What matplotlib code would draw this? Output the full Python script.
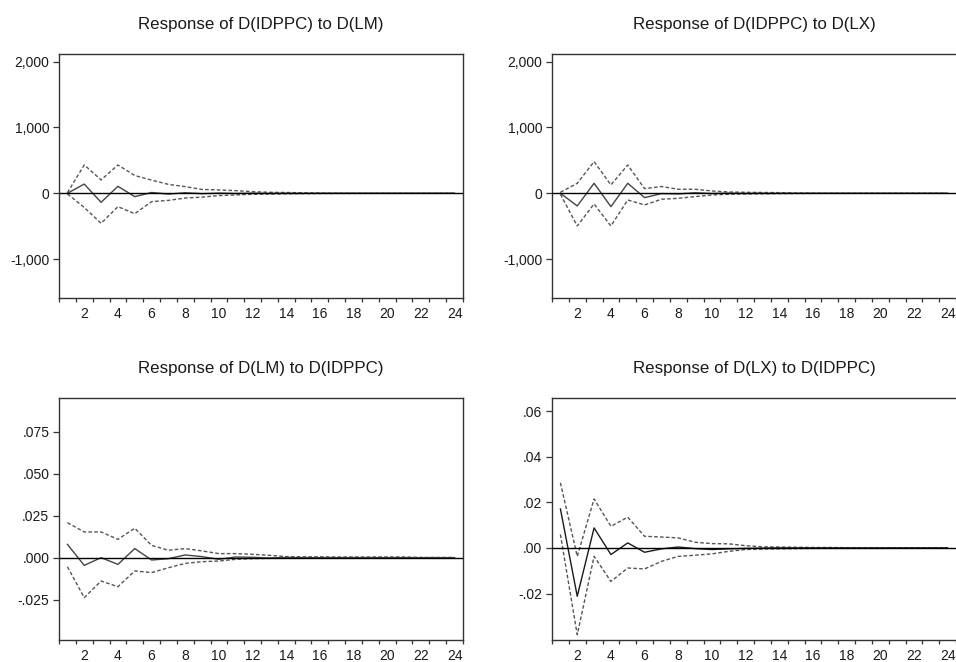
import numpy as np
import matplotlib

matplotlib.use("Agg")
import matplotlib.pyplot as plt

plt.rcParams["font.family"] = ["Liberation Sans", "DejaVu Sans"]

periods = np.arange(1, 25)

titles = [
    "Response of D(IDPPC) to D(LM)",
    "Response of D(IDPPC) to D(LX)",
    "Response of D(LM) to D(IDPPC)",
    "Response of D(LX) to D(IDPPC)",
]

# impulse responses (solid) and +/- 2 S.E. bands (dashed)
resp_lm = [0, 140, -137, 106, -51, 12, -12, 8, -6, 3, -3, 2, -2, 1, -1,
           0, 0, 0, 0, 0, 0, 0, 0, 0]
upper_lm = [10, 430, 203, 430, 270, 200, 135, 101, 58, 51, 40, 25, 15, 12, 8,
            4, 2, 1, 0, 0, 0, 0, 0, 0]
lower_lm = [-10, -215, -456, -203, -310, -127, -108, -72, -58, -35, -25, -15,
            -12, -8, -5, -3, -2, -1, 0, 0, 0, 0, 0, 0]

resp_lx = [0, -192, 152, -203, 152, -66, -5, -10, 8, -3, 2, -2, 1, 0, 0,
           0, 0, 0, 0, 0, 0, 0, 0, 0]
upper_lx = [15, 152, 481, 127, 430, 70, 103, 61, 61, 35, 20, 15, 12, 10, 5,
            2, 0, 0, 0, 0, 0, 0, 0, 0]
lower_lx = [-15, -496, -162, -496, -101, -177, -91, -76, -51, -25, -15, -10,
            -8, -5, -3, -1, 0, 0, 0, 0, 0, 0, 0, 0]

resp_idppc_lm = [0.0079, -0.0046, 0.0, -0.0040, 0.0054, -0.0014, -0.0006,
                 0.0016, 0.0006, -0.0010, 0.0004, 0.0002, -0.0002, 0.0001,
                 0, 0, 0, 0, 0, 0, 0, 0, 0, 0]
upper_idppc_lm = [0.0208, 0.0153, 0.0153, 0.0109, 0.0175, 0.0073, 0.0044,
                  0.0054, 0.0040, 0.0024, 0.0024, 0.0020, 0.0014, 0.0006,
                  0.0005, 0.0005, 0.0004, 0.0004, 0.0004, 0.0004, 0.0004,
                  0.0001, 0.0001, 0.0001]
lower_idppc_lm = [-0.0054, -0.0238, -0.0139, -0.0173, -0.0079, -0.0089,
                  -0.0060, -0.0034, -0.0024, -0.0020, -0.0010, -0.0006,
                  -0.0004, -0.0003, -0.0002, -0.0001, -0.0001, 0, 0, 0, 0,
                  0, 0, 0]

resp_idppc_lx = [0.0171, -0.0212, 0.0088, -0.0029, 0.0022, -0.0019, -0.0004,
                 0.0004, -0.0003, -0.0007, -0.0004, -0.0002, -0.0001, 0,
                 0, 0, 0, 0, 0, 0, 0, 0, 0, 0]
upper_idppc_lx = [0.0286, -0.0037, 0.0215, 0.0095, 0.0135, 0.0051, 0.0048,
                  0.0044, 0.0025, 0.0019, 0.0018, 0.0010, 0.0005, 0.0004,
                  0.0003, 0.0002, 0.0002, 0.0001, 0.0001, 0.0001, 0.0001,
                  0.0001, 0.0001, 0.0001]
lower_idppc_lx = [0.0059, -0.0381, -0.0037, -0.0147, -0.0088, -0.0092,
                  -0.0059, -0.0037, -0.0032, -0.0026, -0.0015, -0.0007,
                  -0.0005, -0.0004, -0.0003, -0.0002, -0.0002, -0.0002,
                  -0.0002, -0.0002, -0.0001, -0.0001, -0.0001, -0.0001]

y_ticks = [
    [-1000, 0, 1000, 2000],
    [-1000, 0, 1000, 2000],
    [-0.025, 0.0, 0.025, 0.050, 0.075],
    [-0.02, 0.0, 0.02, 0.04, 0.06],
]
y_labels = [
    ["-1,000", "0", "1,000", "2,000"],
    ["-1,000", "0", "1,000", "2,000"],
    ["-.025", ".000", ".025", ".050", ".075"],
    ["-.02", ".00", ".02", ".04", ".06"],
]
y_limits = [(-1590, 2115), (-1590, 2115), (-0.049, 0.095), (-0.0404, 0.0658)]

series = [
    (resp_lm, upper_lm, lower_lm),
    (resp_lx, upper_lx, lower_lx),
    (resp_idppc_lm, upper_idppc_lm, lower_idppc_lm),
    (resp_idppc_lx, upper_idppc_lx, lower_idppc_lx),
]

W, H = 956, 662
fig = plt.figure(figsize=(W / 100, H / 100), dpi=100)

# axes boxes in pixels: left, top, right, bottom
boxes = [
    (59, 54, 463, 298),
    (552, 54, 956, 298),
    (59, 398, 463, 640),
    (552, 398, 956, 640),
]

for i, (l, t, r, b) in enumerate(boxes):
    ax = fig.add_axes([l / W, 1 - b / H, (r - l) / W, (b - t) / H])
    resp, upper, lower = series[i]

    ax.plot(periods, upper, color="#555555", lw=1.0, dashes=(2.6, 1.6))
    ax.plot(periods, lower, color="#555555", lw=1.0, dashes=(2.6, 1.6))
    ax.plot(periods, resp, color="#444444" if i < 3 else "#1a1a1a", lw=1.0)
    ax.axhline(0, color="black", lw=1.0, zorder=5)

    ax.set_xlim(0.5, 24.5)
    ax.set_ylim(*y_limits[i])

    ax.set_xticks(np.arange(2, 25, 2))
    ax.set_xticks(np.arange(0.5, 25, 1), minor=True)
    ax.tick_params(axis="x", which="major", length=0, pad=6.5,
                   labelsize=10, labelcolor="#1a1a1a")
    ax.tick_params(axis="x", which="minor", length=3.2, width=0.9,
                   color="#333333", direction="out")

    ax.set_yticks(y_ticks[i])
    ax.set_yticklabels(y_labels[i])
    ax.tick_params(axis="y", length=4.5, width=0.9, pad=2.5, color="#333333",
                   labelsize=10, labelcolor="#1a1a1a", direction="out")

    for s in ax.spines.values():
        s.set_color("#333333")
        s.set_linewidth(1.0)
    if i % 2 == 1:
        ax.spines["right"].set_visible(False)

    ax.set_title(titles[i], fontsize=12.2, color="#1a1a1a", pad=18)

fig.savefig("out.png", dpi=100)
